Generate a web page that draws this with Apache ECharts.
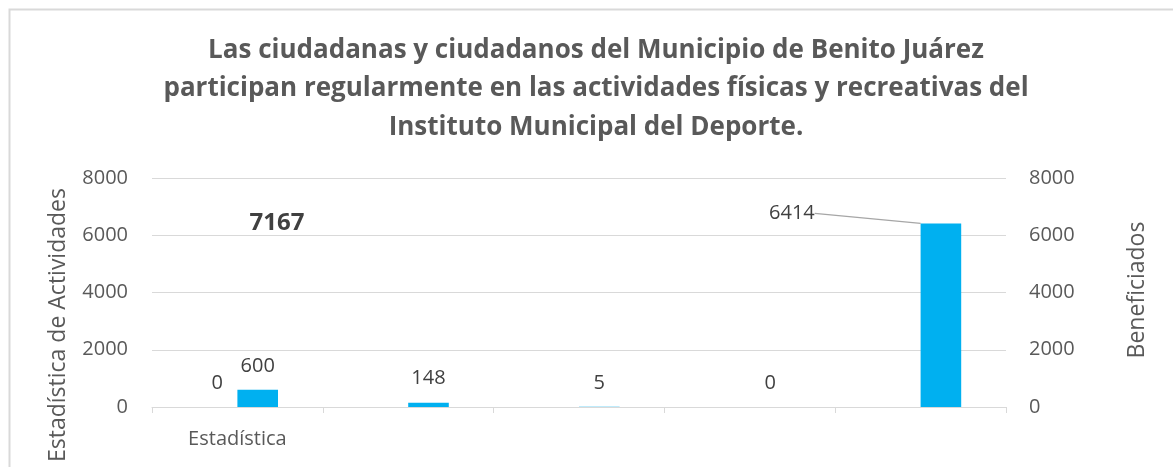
<!DOCTYPE html>
<html>
<head>
<meta charset="utf-8">
<script src="https://cdn.jsdelivr.net/npm/echarts@6/dist/echarts.min.js"></script>
<style>
html,body{margin:0;padding:0;background:#fff;}
#chart{width:1173px;height:467px;}
</style>
</head>
<body>
<div id="chart"></div>
<script>
const titleText = 'Las ciudadanas y ciudadanos del Municipio de Benito Juárez\nparticipan regularmente en las actividades físicas y recreativas del\nInstituto Municipal del Deporte.';
const categories = ['Estadística', '', '', '', ''];
const actividades = [0, '-', '-', '-', '-'];
const beneficiados = [600, 148, 5, 0, 6414];
const leftTicks = [0, 8000, 2000];
const rightTicks = [0, 8000, 2000];
const totalLabel = '7167';
const leftName = 'Estadística de Actividades';
const rightName = 'Beneficiados';
const movedLabelIndex = 4;

const FONT = 'Open Sans';
const plain = v => String(v);
const chart = echarts.init(document.getElementById('chart'));
chart.setOption({
  animation: false,
  backgroundColor: '#fff',
  textStyle: { fontFamily: FONT },
  title: {
    text: titleText,
    left: 591,
    textAlign: 'center',
    top: 26,
    textStyle: { fontFamily: FONT, fontSize: 26, fontWeight: 'bold', color: '#595959', lineHeight: 38.5 }
  },
  grid: { left: 152, right: 167, top: 178, bottom: 60, containLabel: false },
  xAxis: {
    type: 'category',
    data: categories,
    axisLine: { lineStyle: { color: '#d9d9d9', width: 1 } },
    axisTick: { show: true, interval: 0, length: 6, lineStyle: { color: '#d9d9d9' } },
    axisLabel: { interval: 0, margin: 22, fontSize: 20, color: '#595959', fontFamily: FONT }
  },
  yAxis: [
    {
      type: 'value', min: leftTicks[0], max: leftTicks[1], interval: leftTicks[2],
      axisLine: { show: false }, axisTick: { show: false },
      axisLabel: { margin: 24, fontSize: 20, color: '#595959', fontFamily: FONT, formatter: plain },
      splitLine: { lineStyle: { color: '#d9d9d9', width: 1 } }
    },
    {
      type: 'value', min: rightTicks[0], max: rightTicks[1], interval: rightTicks[2],
      position: 'right',
      axisLine: { show: false }, axisTick: { show: false },
      axisLabel: { margin: 23, fontSize: 20, color: '#595959', fontFamily: FONT, formatter: plain },
      splitLine: { show: false }
    }
  ],
  series: [
    {
      name: leftName, type: 'bar', yAxisIndex: 0, data: actividades,
      barWidth: 40.6, barGap: '0%',
      itemStyle: { color: '#a5a5a5' },
      label: { show: true, position: 'top', distance: 14, fontSize: 20, color: '#404040', fontFamily: FONT }
    },
    {
      name: rightName, type: 'bar', yAxisIndex: 1,
      data: beneficiados.map((v, i) => i === movedLabelIndex
        ? { value: v, labelLine: { show: true, lineStyle: { color: '#a6a6a6', width: 1.3 } } }
        : v),
      barWidth: 40.6, barGap: '0%',
      itemStyle: { color: '#00b0f0' },
      label: { show: true, position: 'top', distance: 14, fontSize: 20, color: '#404040', fontFamily: FONT },
      labelLine: { show: false },
      labelLayout: function (p) {
        if (p.dataIndex === movedLabelIndex) {
          return { dx: -149, dy: 14 };
        }
        return {};
      }
    }
  ],
  graphic: [
    { type: 'rect', left: 7, top: 7, shape: { x: 0, y: 0, width: 1200, height: 500 },
      style: { fill: 'none', stroke: '#d9d9d9', lineWidth: 2 }, silent: true },
    { type: 'text', x: 58, y: 325, rotation: Math.PI / 2,
      style: { text: leftName, fontFamily: FONT, fontSize: 23, fill: '#595959', align: 'center', verticalAlign: 'middle' } },
    { type: 'text', x: 1137, y: 290, rotation: Math.PI / 2,
      style: { text: rightName, fontFamily: FONT, fontSize: 23, fill: '#595959', align: 'center', verticalAlign: 'middle' } },
    { type: 'text', x: 277, y: 223,
      style: { text: totalLabel, fontFamily: FONT, fontSize: 24, fontWeight: 'bold', fill: '#404040', align: 'center', verticalAlign: 'middle' } }
  ]
});
</script>
</body>
</html>
